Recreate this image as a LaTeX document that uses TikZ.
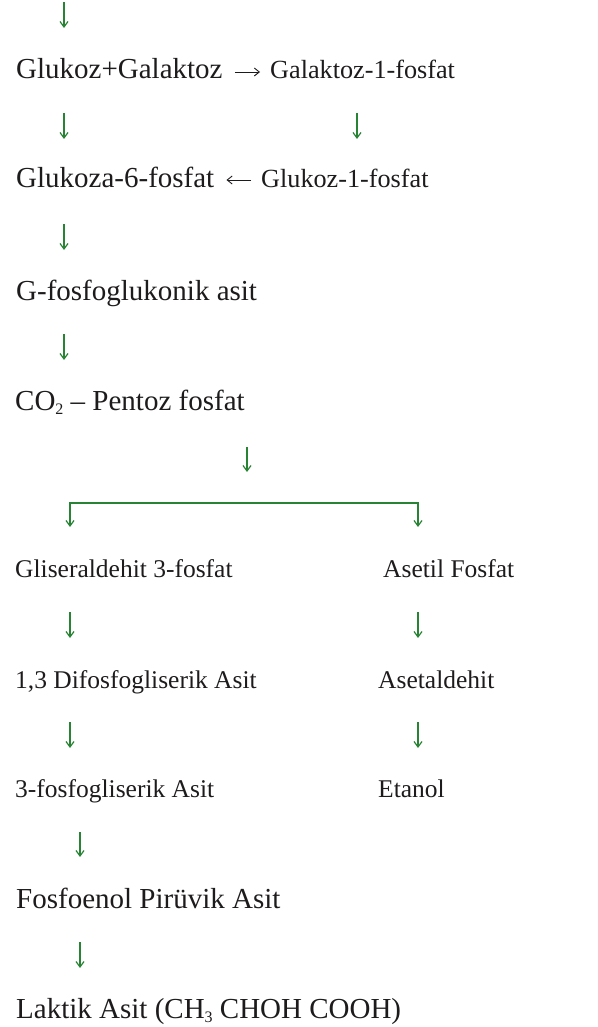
\documentclass[tikz,border=0pt]{standalone}
\usepackage{fontspec}
\setmainfont{Liberation Serif}
\usetikzlibrary{arrows.meta}
\definecolor{pathgreen}{RGB}{40,132,52}
\definecolor{txtgray}{RGB}{30,27,28}
\newcommand{\chemsub}[1]{\raisebox{-4.5pt}{\fontsize{16}{16}\selectfont #1}}
\tikzset{
  lbl/.style={anchor=base west, inner sep=0pt, text=txtgray, font=\fontsize{29}{33}\selectfont},
  lbls/.style={lbl, font=\fontsize{25.5}{30}\selectfont},
  lblm/.style={lbl, font=\fontsize{26.2}{30}\selectfont},
  garrow/.style={draw=pathgreen, line width=1.3pt, -{Straight Barb[length=5.5pt,width=8pt,line width=1.2pt]}},
  gline/.style={draw=pathgreen, line width=2pt},
  barrow/.style={draw=txtgray, line width=0.9pt, -{Straight Barb[length=5pt,width=8pt,line width=0.9pt]}}
}
\begin{document}
\begin{tikzpicture}[x=1pt,y=1pt]
\useasboundingbox (0,0) rectangle (597,-1027);
% text nodes
\node[lbl] (n1a) at (16,-79) {Glukoz+Galaktoz};
\node[lblm] (n1b) at (270,-79) {Galaktoz-1-fosfat};
\node[lbl] (n2a) at (16,-188) {Glukoza-6-fosfat};
\node[lblm] (n2b) at (261,-188) {Glukoz-1-fosfat};
\node[lbl] (n3) at (16,-300) {G-fosfoglukonik asit};
\node[lbl] (n4) at (15,-410) {CO\chemsub{2} – Pentoz fosfat};
\node[lbls] (n5a) at (15,-577) {Gliseraldehit 3-fosfat};
\node[lbls] (n5b) at (383,-577) {Asetil Fosfat};
\node[lbls] (n6a) at (15,-688) {1,3 Difosfogliserik Asit};
\node[lbls] (n6b) at (378,-688) {Asetaldehit};
\node[lbls] (n7a) at (15,-797) {3-fosfogliserik Asit};
\node[lbls] (n7b) at (378,-797) {Etanol};
\node[lbl] (n8) at (16,-908) {Fosfoenol Pirüvik Asit};
\node[lbl] (n9) at (16,-1018) {Laktik Asit (CH\chemsub{3} CHOH COOH)};
% arrow end points
\coordinate (a0s) at (64,-2);   \coordinate (a0e) at (64,-28);
\coordinate (a1s) at (64,-113); \coordinate (a1e) at (64,-139);
\coordinate (a2s) at (357,-113);\coordinate (a2e) at (357,-139);
\coordinate (a3s) at (64,-224); \coordinate (a3e) at (64,-250);
\coordinate (a4s) at (64,-334); \coordinate (a4e) at (64,-360);
\coordinate (a5s) at (247,-447);\coordinate (a5e) at (247,-472);
\coordinate (bl) at (70,-503);  \coordinate (br) at (418,-503);
\coordinate (ble) at (70,-527); \coordinate (bre) at (418,-527);
\coordinate (a6s) at (70,-612); \coordinate (a6e) at (70,-638);
\coordinate (a7s) at (418,-612);\coordinate (a7e) at (418,-638);
\coordinate (a8s) at (70,-722); \coordinate (a8e) at (70,-748);
\coordinate (a9s) at (418,-722);\coordinate (a9e) at (418,-748);
\coordinate (a10s) at (80,-832);\coordinate (a10e) at (80,-857);
\coordinate (a11s) at (80,-942);\coordinate (a11e) at (80,-968);
% green arrows
\draw[garrow] (a0s) -- (a0e);
\draw[garrow] (a1s) -- (a1e);
\draw[garrow] (a2s) -- (a2e);
\draw[garrow] (a3s) -- (a3e);
\draw[garrow] (a4s) -- (a4e);
\draw[garrow] (a5s) -- (a5e);
\draw[gline] ([xshift=-0.65pt]bl) -- ([xshift=0.65pt]br);
\draw[garrow] (bl) -- (ble);
\draw[garrow] (br) -- (bre);
\draw[garrow] (a6s) -- (a6e);
\draw[garrow] (a7s) -- (a7e);
\draw[garrow] (a8s) -- (a8e);
\draw[garrow] (a9s) -- (a9e);
\draw[garrow] (a10s) -- (a10e);
\draw[garrow] (a11s) -- (a11e);
% black reaction arrows
\draw[barrow] ([xshift=12pt,yshift=7pt]n1a.base east) -- ([xshift=-10pt,yshift=7pt]n1b.base west);
\draw[barrow] ([xshift=-10pt,yshift=8pt]n2b.base west) -- ([xshift=12pt,yshift=8pt]n2a.base east);
\end{tikzpicture}
\end{document}
